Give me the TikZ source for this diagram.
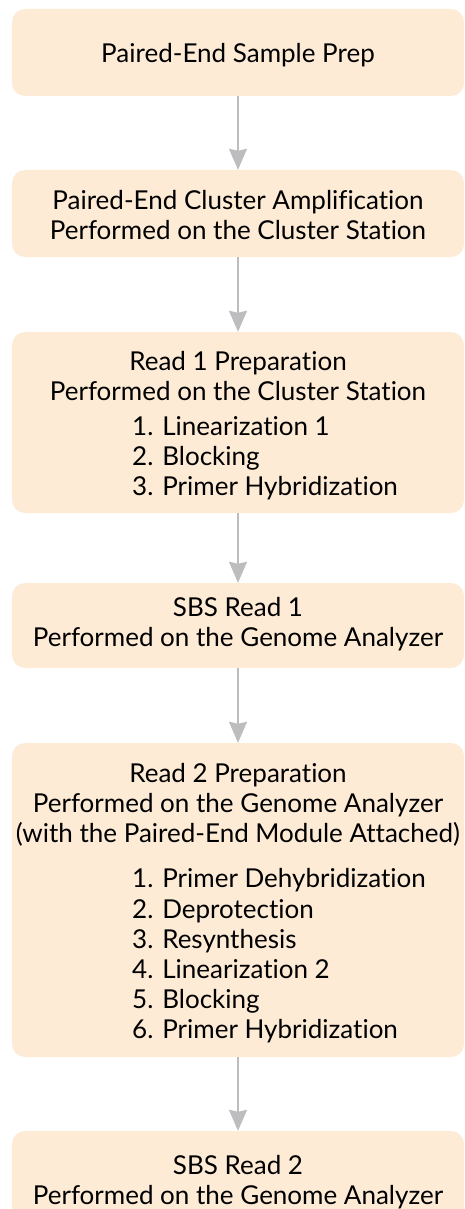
\documentclass[tikz,border=0pt]{standalone}
\usepackage{fontspec}
\setmainfont[Ligatures=NoCommon]{Lato}
\usetikzlibrary{arrows.meta}
\definecolor{stepfill}{HTML}{FDEBD6}
\definecolor{arrowgray}{HTML}{BDBDC0}
\begin{document}
\begin{tikzpicture}[x=1pt, y=-1pt,
  stepbox/.style={rounded corners=13pt, fill=stepfill, minimum width=452pt, inner sep=0pt},
  steptext/.style={inner sep=0pt, align=center, font=\fontsize{26}{30}\selectfont},
  steplist/.style={inner sep=0pt, align=left, anchor=west, font=\fontsize{26}{30.2}\selectfont},
  flow/.style={draw=arrowgray, line width=2pt, -{Stealth[length=21pt, width=18pt, inset=2pt]}}]
\useasboundingbox (0,0) rectangle (465,1209);
\clip (0,0) rectangle (465,1209);
% boxes
\node[stepbox, minimum height=87pt] (S1) at (238, 52.5) {};
\node[stepbox, minimum height=87pt] (S2) at (238, 213.5) {};
\node[stepbox, minimum height=181pt] (S3) at (238, 422.5) {};
\node[stepbox, minimum height=85pt] (S4) at (238, 625.5) {};
\node[stepbox, minimum height=314pt] (S5) at (238, 900) {};
\node[stepbox, minimum height=98pt] (S6) at (238, 1180) {};
% texts
\node[steptext] (T1) at (238, 55) {Paired-End Sample Prep};
\node[steptext] (T2) at (238, 215) {Paired-End Cluster Amplification\\Performed on the Cluster Station};
\node[steptext] (T3) at (238, 376) {Read 1 Preparation\\Performed on the Cluster Station};
\node[steplist] (L3) at (132, 458) {1. Linearization 1\\2. Blocking\\3. Primer Hybridization};
\node[steptext] (T5) at (238, 805) {Read 2 Preparation\\Performed on the Genome Analyzer\\(with the Paired-End Module Attached)};
\node[steptext] (T4) at (238, 624) {SBS Read 1\\Performed on the Genome Analyzer};
\node[steplist] (L5) at (132, 956) {1. Primer Dehybridization\\2. Deprotection\\3. Resynthesis\\4. Linearization 2\\5. Blocking\\6. Primer Hybridization};
\node[steptext] (T6) at (238, 1182) {SBS Read 2\\Performed on the Genome Analyzer};
% arrows
\draw[flow] (S1) -- (S2);
\draw[flow] (S2) -- (S3);
\draw[flow] (S3) -- (S4);
\draw[flow] (S4) -- (S5);
\draw[flow] (S5) -- (S6);
\end{tikzpicture}
\end{document}
